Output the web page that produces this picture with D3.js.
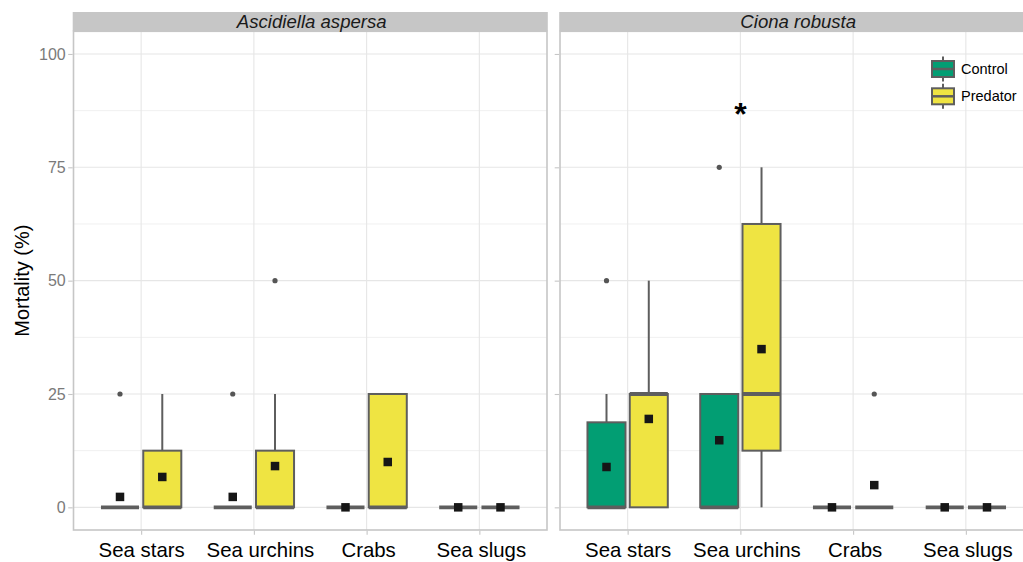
<!DOCTYPE html>
<html>
<head>
<meta charset="utf-8">
<script src="https://cdn.jsdelivr.net/npm/d3@7/dist/d3.min.js"></script>
<style>
  html, body { margin: 0; padding: 0; background: #fff; }
  svg { display: block; font-family: "Liberation Sans", Arial, sans-serif; }
</style>
</head>
<body>
<svg id="chart" width="1023" height="562"></svg>
<script>
// ---------------- DATA ----------------
const panels = ["Ascidiella aspersa", "Ciona robusta"];
const categories = ["Sea stars", "Sea urchins", "Crabs", "Sea slugs"];
const groups = ["Control", "Predator"];
const groupColors = ["#029e73", "#efe442"];
const yTicks = [0, 25, 50, 75, 100];
const yMinorTicks = [12.5, 37.5, 62.5, 87.5];

// Summary stats; index [panel][group][category]
const whiskerLow = [
  [[0, 0, 0, 0], [0, 0, 0, 0]],
  [[0, 0, 0, 0], [0, 0, 0, 0]]
];
const q1 = [
  [[0, 0, 0, 0], [0, 0, 0, 0]],
  [[0, 0, 0, 0], [0, 12.5, 0, 0]]
];
const median = [
  [[0, 0, 0, 0], [0, 0, 0, 0]],
  [[0, 0, 0, 0], [25, 25, 0, 0]]
];
const q3 = [
  [[0, 0, 0, 0], [12.5, 12.5, 25, 0]],
  [[18.75, 25, 0, 0], [25, 62.5, 0, 0]]
];
const whiskerHigh = [
  [[0, 0, 0, 0], [25, 25, 25, 0]],
  [[25, 25, 0, 0], [50, 75, 0, 0]]
];
const meanValues = [
  [[2.3, 2.3, 0, 0], [6.7, 9.1, 10, 0]],
  [[8.9, 14.8, 0, 0], [19.5, 34.9, 4.9, 0]]
];
const outliers = [
  [[[25], [25], [], []], [[], [50], [], []]],
  [[[50], [75], [], []], [[], [], [25], []]]
];
// significance marker: [panel index, category, y value]
const significance = [[1, "Sea urchins", 87.5]];

// ---------------- LAYOUT ----------------
const svg = d3.select("#chart");
const panelX0 = [73.5, 560];
const panelW = 473.5;
const stripTop = 12, panelTop = 31.3, panelBottom = 530;
const font = '"Liberation Sans", Arial, sans-serif';
const boxStroke = "#5e5e5e";
const xLabelNudge = { "Sea urchins": 6, "Crabs": 1.5, "Sea slugs": 1.5 };

const y = d3.scaleLinear().domain([-5, 105]).range([panelBottom, panelTop]);

panels.forEach((pname, pi) => {
  const x0 = panelX0[pi];
  const x = d3.scalePoint().domain(categories).range([x0, x0 + panelW]).padding(0.6);
  const step = x.step();
  const boxW = step * 0.3375;
  const dodge = step * 0.1875;
  const g = svg.append("g");

  // background
  g.append("rect").attr("x", x0).attr("y", panelTop).attr("width", panelW)
    .attr("height", panelBottom - panelTop).attr("fill", "#fff");

  // minor grid
  g.selectAll(".minor").data(yMinorTicks).join("line")
    .attr("x1", x0).attr("x2", x0 + panelW)
    .attr("y1", d => y(d)).attr("y2", d => y(d))
    .attr("stroke", "#f0f0f0").attr("stroke-width", 1);
  // major grid
  g.selectAll(".majorY").data(yTicks).join("line")
    .attr("x1", x0).attr("x2", x0 + panelW)
    .attr("y1", d => y(d)).attr("y2", d => y(d))
    .attr("stroke", "#e6e6e6").attr("stroke-width", 1.1);
  g.selectAll(".majorX").data(categories).join("line")
    .attr("x1", d => x(d)).attr("x2", d => x(d))
    .attr("y1", panelTop).attr("y2", panelBottom)
    .attr("stroke", "#e6e6e6").attr("stroke-width", 1.1);

  // boxes
  groups.forEach((grp, gi) => {
    const off = gi === 0 ? -dodge : dodge;
    categories.forEach((cat, ci) => {
      const cx = x(cat) + off;
      const lo = whiskerLow[pi][gi][ci], a = q1[pi][gi][ci], m = median[pi][gi][ci],
            b = q3[pi][gi][ci], hi = whiskerHigh[pi][gi][ci];
      // whiskers
      g.append("line").attr("x1", cx).attr("x2", cx).attr("y1", y(b)).attr("y2", y(hi))
        .attr("stroke", boxStroke).attr("stroke-width", 2);
      g.append("line").attr("x1", cx).attr("x2", cx).attr("y1", y(a)).attr("y2", y(lo))
        .attr("stroke", boxStroke).attr("stroke-width", 2);
      // box
      g.append("rect").attr("x", cx - boxW / 2).attr("width", boxW)
        .attr("y", y(b)).attr("height", Math.max(0, y(a) - y(b)))
        .attr("fill", groupColors[gi]).attr("stroke", boxStroke).attr("stroke-width", 2);
      // median
      g.append("line").attr("x1", cx - boxW / 2).attr("x2", cx + boxW / 2)
        .attr("y1", y(m)).attr("y2", y(m))
        .attr("stroke", boxStroke).attr("stroke-width", 3.8);
      // outliers
      outliers[pi][gi][ci].forEach(v => {
        g.append("circle").attr("cx", cx).attr("cy", y(v)).attr("r", 2.6).attr("fill", "#555");
      });
      // mean
      const mv = meanValues[pi][gi][ci];
      const s = 8.5;
      g.append("rect").attr("x", cx - s / 2).attr("y", y(mv) - s / 2)
        .attr("width", s).attr("height", s).attr("fill", "#161616");
    });
  });

  // significance
  significance.filter(d => d[0] === pi).forEach(d => {
    const fs = 32;
    g.append("text").attr("x", x(d[1])).attr("y", y(d[2]) + 0.45 * fs)
      .attr("text-anchor", "middle").attr("font-size", fs).attr("font-weight", "bold")
      .attr("fill", "#000").attr("font-family", font).text("*");
  });

  // panel border
  g.append("rect").attr("x", x0).attr("y", panelTop).attr("width", panelW)
    .attr("height", panelBottom - panelTop).attr("fill", "none")
    .attr("stroke", "#c6c6c6").attr("stroke-width", 1.6);

  // strip
  g.append("rect").attr("x", x0 - 0.8).attr("y", stripTop).attr("width", panelW + 1.6)
    .attr("height", panelTop - stripTop).attr("fill", "#c6c6c6");
  g.append("text").attr("x", x0 + panelW / 2 + 1.5).attr("y", (stripTop + panelTop) / 2)
    .attr("dy", "0.35em").attr("text-anchor", "middle").attr("font-style", "italic")
    .attr("font-size", 18.6).attr("fill", "#1a1a1a").attr("font-family", font).text(pname);

  // y axis
  const yAxis = d3.axisLeft(y).tickValues(yTicks).tickSize(4.5).tickPadding(2.5)
    .tickFormat(pi === 0 ? d3.format("d") : () => "");
  const ya = svg.append("g").attr("transform", `translate(${x0 - 0.8},0)`).call(yAxis);
  ya.select(".domain").remove();
  ya.selectAll("line").attr("stroke", "#c6c6c6").attr("stroke-width", 1.1);
  ya.selectAll("text").attr("fill", "#7a7a7a").attr("font-size", 16).attr("font-family", font);

  // x axis
  const xAxis = d3.axisBottom(x).tickSize(4).tickPadding(8);
  const xa = svg.append("g").attr("transform", `translate(0,${panelBottom + 0.8})`).call(xAxis);
  xa.select(".domain").remove();
  xa.selectAll("line").attr("stroke", "#c6c6c6").attr("stroke-width", 1.1);
  xa.selectAll("text").attr("fill", "#000").attr("font-size", 20.4).attr("font-family", font)
    .attr("dx", d => xLabelNudge[d] || 0);
});

// y axis title
svg.append("text").attr("transform", `translate(22,${(panelTop + panelBottom) / 2}) rotate(-90)`)
  .attr("dy", "0.35em").attr("text-anchor", "middle").attr("font-size", 20)
  .attr("fill", "#000").attr("font-family", font).text("Mortality (%)");

// legend
const legX = 932, legY0 = 61, legStep = 27.3, keyW = 22, keyH = 16;
const leg = svg.append("g");
groups.forEach((grp, gi) => {
  const ty = legY0 + gi * legStep;
  const cx = legX + keyW / 2;
  leg.append("line").attr("x1", cx).attr("x2", cx).attr("y1", ty - 4.5).attr("y2", ty + keyH + 4.5)
    .attr("stroke", boxStroke).attr("stroke-width", 2);
  leg.append("rect").attr("x", legX).attr("y", ty).attr("width", keyW).attr("height", keyH)
    .attr("fill", groupColors[gi]).attr("stroke", boxStroke).attr("stroke-width", 2);
  leg.append("line").attr("x1", legX).attr("x2", legX + keyW)
    .attr("y1", ty + keyH / 2).attr("y2", ty + keyH / 2)
    .attr("stroke", boxStroke).attr("stroke-width", 2.5);
  leg.append("text").attr("x", legX + keyW + 7).attr("y", ty + keyH / 2).attr("dy", "0.35em")
    .attr("font-size", 14.5).attr("fill", "#000").attr("font-family", font).text(grp);
});
</script>
</body>
</html>
